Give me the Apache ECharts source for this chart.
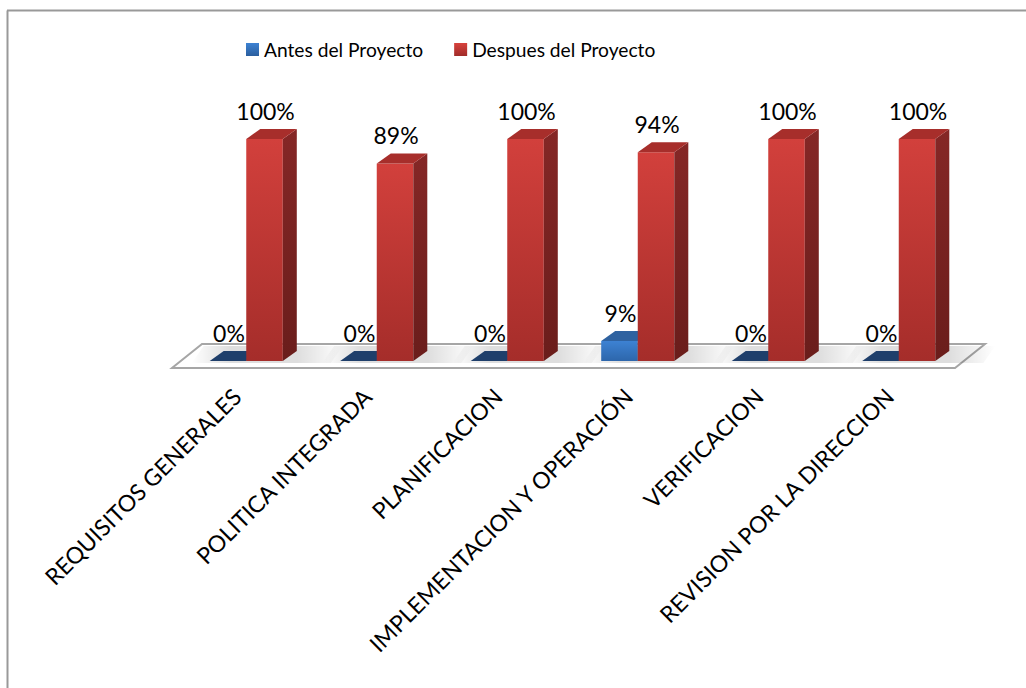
<!DOCTYPE html>
<html>
<head>
<meta charset="utf-8">
<script src="https://cdn.jsdelivr.net/npm/echarts@6/dist/echarts.min.js"></script>
<style>
html,body{margin:0;padding:0;background:#fff;}
#chart{width:1026px;height:688px;}
</style>
</head>
<body>
<div id="chart"></div>
<script>
const categories = ['REQUISITOS GENERALES','POLITICA INTEGRADA','PLANIFICACION','IMPLEMENTACION Y OPERACIÓN','VERIFICACION','REVISION POR LA DIRECCION'];
const antes = [0, 0, 0, 9, 0, 0];
const despues = [100, 89, 100, 94, 100, 100];
const seriesNames = ['Antes del Proyecto', 'Despues del Proyecto'];

const FONT = 'Lato';
const DX = 14, DY = -10;
const LG = echarts.graphic.LinearGradient;

function barRender(isLeft, pal) {
  return function (params, api) {
    const i = api.value(0), v = api.value(1);
    const base = api.coord([i, 0]);
    const top = api.coord([i, v]);
    const bw = api.size([1, 0])[0];
    const w = bw * 0.28;
    const x0 = isLeft ? base[0] - w : base[0];
    const x1 = x0 + w;
    const yb = base[1], yt = top[1];
    const children = [];
    if (yb - yt > 0.5) {
      children.push({type:'rect', shape:{x:x0, y:yt, width:w, height:yb-yt},
        style:{fill:new LG(0,0,0,1,[{offset:0,color:pal.f0},{offset:1,color:pal.f1}])}});
      children.push({type:'polygon', shape:{points:[[x1,yb],[x1+DX,yb+DY],[x1+DX,yt+DY],[x1,yt]]},
        style:{fill:new LG(0,0,0,1,[{offset:0,color:pal.s0},{offset:1,color:pal.s1}])}});
    }
    children.push({type:'polygon', shape:{points:[[x0,yt],[x0+DX,yt+DY],[x1+DX,yt+DY],[x1,yt]]},
      style:{fill: v > 0 ? pal.t : pal.tz}});
    children.push({type:'text', x:(x0+x1)/2 + 1, y: yt + DY - 18,
      style:{text: v + '%', fontFamily: FONT, fontSize: 23, fill:'#000', align:'center', verticalAlign:'middle'}});
    return {type:'group', children};
  };
}

function floorRender(params, api) {
  const n = categories.length;
  const c0 = api.coord([0, 0]);
  const bw = api.size([1, 0])[0];
  const left = c0[0] - bw / 2, right = left + n * bw;
  const y = c0[1];
  const fx = -9, fy = 7, bx = 21, by = -17;
  const children = [{type:'polygon', shape:{points:[[left+fx,y+fy],[right+fx,y+fy],[right+bx,y+by],[left+bx,y+by]]},
    style:{fill:'#ffffff', stroke:'#a6a6a6', lineWidth:2}}];
  for (let k = 0; k < n; k++) {
    const c = api.coord([k, 0])[0];
    const w = bw * 0.28;
    const xl = c - w - 18, xr = c + w + DX + 34;
    children.push({type:'polygon', shape:{points:[[xl,y+2],[xr,y+2],[xr+12,y+by+2],[xl+12,y+by+2]]},
      style:{fill:new LG(0,0,1,0,[{offset:0,color:'rgba(0,0,0,0)'},{offset:0.25,color:'rgba(0,0,0,0.13)'},{offset:0.7,color:'rgba(0,0,0,0.13)'},{offset:1,color:'rgba(0,0,0,0)'}])}});
  }
  return {type:'group', children};
}

const chart = echarts.init(document.getElementById('chart'), null, {renderer:'svg'});
chart.setOption({
  animation: false,
  backgroundColor: '#ffffff',
  graphic: [
    {type:'line', shape:{x1:7.5, y1:10.5, x2:7.5, y2:700}, style:{stroke:'#999999', lineWidth:2}},
    {type:'line', shape:{x1:7, y1:10.5, x2:1030, y2:10.5}, style:{stroke:'#999999', lineWidth:2}}
  ],
  legend: {
    data: seriesNames,
    left: 241, top: 35,
    itemWidth: 13, itemHeight: 13, itemGap: 31,
    icon: 'rect',
    textStyle: {fontFamily: FONT, fontSize: 19.2, color: '#000'}
  },
  grid: {left: 181, right: 62, top: 139, bottom: 327},
  xAxis: {
    type: 'category', data: categories,
    axisLine:{show:false}, axisTick:{show:false}, splitLine:{show:false},
    axisLabel: {rotate: 45, margin: 38, interval: 0, verticalAlign: 'bottom', padding: [0, 2, 0, 0],
      fontFamily: FONT, fontSize: 23, color: '#000'}
  },
  yAxis: {type:'value', min: 0, max: 100, show: false},
  series: [
    {type:'custom', name:'floor', renderItem: floorRender, data: [[0, 0]], clip:false, z:1, silent:true},
    {type:'custom', name: seriesNames[0], renderItem: barRender(true, {f0:'#3d82d3', f1:'#2d66ab', s0:'#285287', s1:'#1f4270', t:'#2f62a0', tz:'#1f3f6b'}),
      data: antes.map((v, i) => [i, v]), clip:false, z:2,
      itemStyle:{color: new LG(0,0,0,1,[{offset:0,color:'#3d82d3'},{offset:1,color:'#2a5e9e'}])}},
    {type:'custom', name: seriesNames[1], renderItem: barRender(false, {f0:'#d2403c', f1:'#a52d2a', s0:'#852726', s1:'#6a1d1b', t:'#a72e2b', tz:'#7a2220'}),
      data: despues.map((v, i) => [i, v]), clip:false, z:3,
      itemStyle:{color: new LG(0,0,0,1,[{offset:0,color:'#d8423d'},{offset:1,color:'#a02c29'}])}}
  ]
});
</script>
</body>
</html>
